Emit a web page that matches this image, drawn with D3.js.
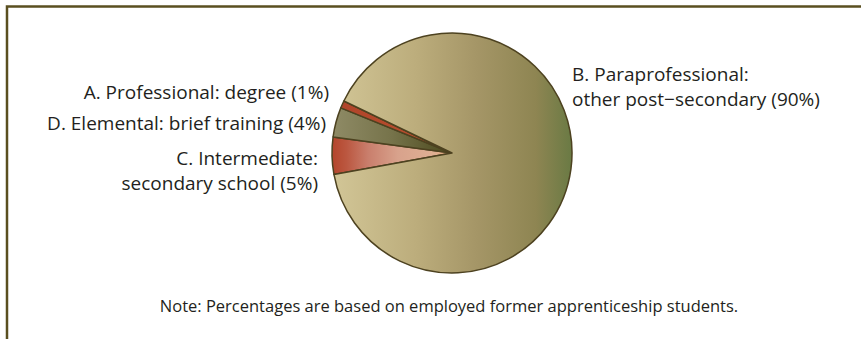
<!DOCTYPE html>
<html>
<head>
<meta charset="utf-8">
<script src="https://cdn.jsdelivr.net/npm/d3@7"></script>
<style>
  html, body { margin: 0; padding: 0; background: #ffffff; }
  svg { display: block; }
  text { font-family: "Open Sans", Lato, sans-serif; fill: #231f20; }
</style>
</head>
<body>
<svg id="chart" width="861" height="339"></svg>
<script>
// Data (pie drawn clockwise starting from C)
const categories = ["C", "D", "A", "B"];
const values = [5, 4, 1, 90];
const labelLines = [
  ["C. Intermediate:", "secondary school (5%)"],
  ["D. Elemental: brief training (4%)"],
  ["A. Professional: degree (1%)"],
  ["B. Paraprofessional:", "other post\u2212secondary (90%)"]
];
const note = "Note: Percentages are based on employed former apprenticeship students.";

const svg = d3.select("#chart");
const W = 861, H = 339;
const cx = 452, cy = 153, R = 120;

// frame
svg.append("path")
  .attr("d", `M7,${H} L7,6.5 L${W},6.5`)
  .attr("fill", "none")
  .attr("stroke", "#5a4f20")
  .attr("stroke-width", 2.5);

const defs = svg.append("defs");
function grad(id, stops, x1, x2) {
  const g = defs.append("linearGradient").attr("id", id)
    .attr("gradientUnits", "userSpaceOnUse")
    .attr("x1", x1).attr("x2", x2).attr("y1", 0).attr("y2", 0);
  stops.forEach(s => g.append("stop").attr("offset", s[0]).attr("stop-color", s[1]));
}
grad("gB", [[0, "#d2c697"], [0.35, "#bcad7c"], [0.6, "#a59667"], [0.85, "#8e8552"], [1, "#6a7a44"]], -R, R);
grad("gC", [[0, "#b4452b"], [0.12, "#bb5740"], [0.3, "#c97e6c"], [0.55, "#d8a28c"], [0.85, "#dfb093"], [1, "#e2a672"]], -R, 0);
grad("gD", [[0, "#8f8b66"], [0.5, "#76734a"], [1, "#4a481c"]], -R, 0);
grad("gA", [[0, "#b0432a"], [1, "#b9532f"]], -R, 0);
const fills = {C: "url(#gC)", D: "url(#gD)", A: "url(#gA)", B: "url(#gB)"};

const start = 259.7 * Math.PI / 180;
const pie = d3.pie().sort(null).value(d => d.v)
  .startAngle(start).endAngle(start + 2 * Math.PI);
const arcs = pie(categories.map((c, i) => ({c, v: values[i]})));
const arc = d3.arc().innerRadius(0).outerRadius(R);

const g = svg.append("g").attr("transform", `translate(${cx},${cy})`);
g.selectAll("path.slice").data(arcs).join("path")
  .attr("class", "slice")
  .attr("d", arc)
  .attr("fill", d => fills[d.data.c])
  .attr("stroke", "#4d4220")
  .attr("stroke-width", 1.5)
  .attr("stroke-linejoin", "round");

// labels
const fs = 19;
const labelPos = {
  C: {x: 318, y: 165, anchor: "end", lh: 25},
  D: {x: 326, y: 130, anchor: "end", lh: 25},
  A: {x: 329, y: 99, anchor: "end", lh: 25},
  B: {x: 572, y: 81, anchor: "start", lh: 25}
};
categories.forEach((c, i) => {
  const p = labelPos[c];
  const t = svg.append("text").attr("x", p.x).attr("y", p.y)
    .attr("text-anchor", p.anchor).attr("font-size", fs);
  labelLines[i].forEach((line, j) => {
    t.append("tspan").attr("x", p.x).attr("dy", j === 0 ? 0 : p.lh).text(line);
  });
});

svg.append("text").attr("x", 449).attr("y", 312)
  .attr("text-anchor", "middle").attr("font-size", 16.5)
  .text(note);
</script>
</body>
</html>
